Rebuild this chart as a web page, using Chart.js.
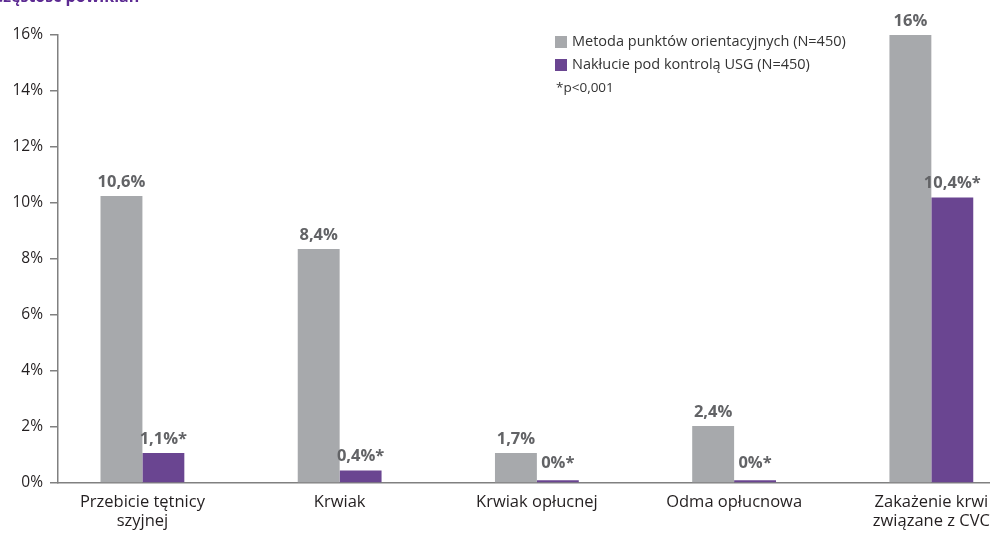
<!DOCTYPE html>
<html><head><meta charset="utf-8">
<script src="https://cdn.jsdelivr.net/npm/chart.js@4.4.0/dist/chart.umd.min.js"></script>
<style>html,body{margin:0;padding:0;background:#fff;}#wrap{width:1000px;height:535px;position:relative;}</style>
</head><body><div id="wrap"><canvas id="c" width="1000" height="535"></canvas></div>
<script>
const chartTitle = "Częstość powikłań";
const categories = [["Przebicie tętnicy", "szyjnej"], "Krwiak", "Krwiak opłucnej", "Odma opłucnowa", ["Zakażenie krwi", "związane z CVC"]];
const seriesNames = ["Metoda punktów orientacyjnych (N=450)", "Nakłucie pod kontrolą USG (N=450)"];
const landmarkValues = [10.25, 8.36, 1.07, 2.04, 16];
const ultrasoundValues = [1.07, 0.45, 0.1, 0.1, 10.2];
const landmarkLabels = ["10,6%", "8,4%", "1,7%", "2,4%", "16%"];
const ultrasoundLabels = ["1,1%*", "0,4%*", "0%*", "0%*", "10,4%*"];
const yTicks = [0, 2, 4, 6, 8, 10, 12, 14, 16];
const footnote = "*p<0,001";

const FONT = "'Open Sans', 'Noto Sans', sans-serif";
const GRAY = '#a7a9ac';
const PURPLE = '#6a4591';
const AXIS = '#808080';

const valueLabelsPlugin = {
  id: 'valueLabels',
  afterDatasetsDraw(chart) {
    const ctx = chart.ctx;
    ctx.save();
    ctx.font = "bold 16.5px " + FONT;
    ctx.fillStyle = '#626366';
    ctx.textAlign = 'center';
    ctx.textBaseline = 'middle';
    chart.data.datasets.forEach((ds, di) => {
      const meta = chart.getDatasetMeta(di);
      meta.data.forEach((el, i) => {
        const off = (ds.data[i].y < 0.2) ? 17 : 14;
        ctx.fillText(ds.valueLabels[i], el.x, el.y - off);
      });
    });
    ctx.restore();
  }
};

const legendPlugin = {
  id: 'customLegend',
  afterDraw(chart) {
    const ctx = chart.ctx;
    ctx.save();
    ctx.font = "14.5px " + FONT;
    ctx.textBaseline = 'middle';
    ctx.textAlign = 'left';
    chart.data.datasets.forEach((ds, i) => {
      const y = 36 + i * 23;
      ctx.fillStyle = ds.backgroundColor;
      ctx.fillRect(555, y, 12, 12);
      ctx.fillStyle = '#333333';
      ctx.fillText(ds.label, 572, y + 6);
    });
    ctx.font = "13.5px " + FONT;
    ctx.fillText(footnote, 556, 88);
    // title (cropped at top)
    ctx.font = "bold 16px " + FONT;
    ctx.fillStyle = '#5c2a92';
    ctx.textBaseline = 'alphabetic';
    ctx.fillText(chartTitle, -7, 2);
    ctx.restore();
  }
};

new Chart(document.getElementById('c'), {
  type: 'bar',
  data: {
    datasets: [
      { label: seriesNames[0], data: landmarkValues.map((v, i) => ({ x: i, y: v })), backgroundColor: GRAY, valueLabels: landmarkLabels },
      { label: seriesNames[1], data: ultrasoundValues.map((v, i) => ({ x: i, y: v })), backgroundColor: PURPLE, valueLabels: ultrasoundLabels }
    ]
  },
  options: {
    responsive: false,
    animation: false,
    layout: { padding: { left: 0, right: 10, top: 35, bottom: 0 } },
    datasets: { bar: { categoryPercentage: 0.425, barPercentage: 1.0 } },
    scales: {
      x: {
        type: 'linear', min: -0.428, max: 4.293, offset: false,
        afterBuildTicks: s => { s.ticks = categories.map((_, i) => ({ value: i })); },
        ticks: {
          callback: v => categories[v], autoSkip: false, maxRotation: 0, minRotation: 0,
          font: { family: FONT, size: 16.5, lineHeight: 1.15 }, color: '#231f20', padding: 9.5
        },
        grid: { display: false, drawTicks: false },
        border: { display: true, color: AXIS, width: 1.5 },
        afterFit: s => { s.height = 52; }
      },
      y: {
        min: 0, max: 16,
        afterBuildTicks: s => { s.ticks = yTicks.map(v => ({ value: v })); },
        ticks: { callback: v => v + '%', font: { family: FONT, size: 15.5 }, color: '#231f20', padding: 7 },
        grid: { drawOnChartArea: false, drawTicks: true, tickLength: 8, color: AXIS, lineWidth: 1.5 },
        border: { display: true, color: AXIS, width: 1.5 },
        afterFit: s => { s.width = 58; }
      }
    },
    plugins: { legend: { display: false }, tooltip: { enabled: false }, title: { display: false } }
  },
  plugins: [valueLabelsPlugin, legendPlugin]
});
</script></body></html>
